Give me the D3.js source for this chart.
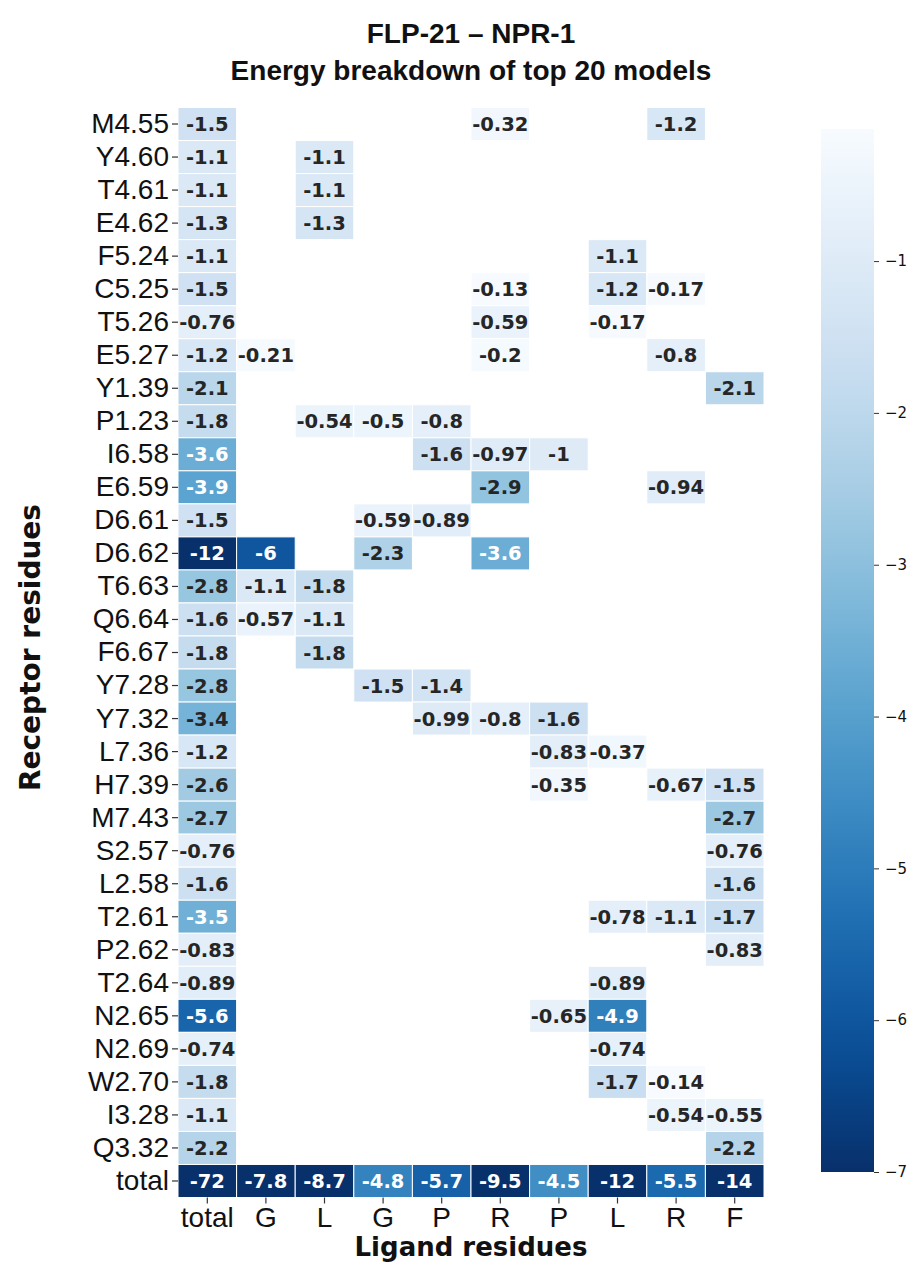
<!DOCTYPE html>
<html>
<head>
<meta charset="utf-8">
<script src="https://cdn.jsdelivr.net/npm/d3@7"></script>
<style>
  body { margin: 0; background: #fff; }
  svg { display: block; }
</style>
</head>
<body>
<div id="chart"></div>
<script>
// Receptor residues (rows) and ligand residues (columns)
const rowLabels = ["M4.55", "Y4.60", "T4.61", "E4.62", "F5.24", "C5.25", "T5.26", "E5.27",
  "Y1.39", "P1.23", "I6.58", "E6.59", "D6.61", "D6.62", "T6.63", "Q6.64", "F6.67",
  "Y7.28", "Y7.32", "L7.36", "H7.39", "M7.43", "S2.57", "L2.58", "T2.61", "P2.62",
  "T2.64", "N2.65", "N2.69", "W2.70", "I3.28", "Q3.32", "total"];
const colLabels = ["total", "G", "L", "G", "P", "R", "P", "L", "R", "F"];

// one array per ligand column, top-to-bottom, null = no contact
const colTotal = [-1.5, -1.1, -1.1, -1.3, -1.1, -1.5, -0.76, -1.2, -2.1, -1.8, -3.6, -3.9, -1.5, -12, -2.8, -1.6, -1.8,
  -2.8, -3.4, -1.2, -2.6, -2.7, -0.76, -1.6, -3.5, -0.83, -0.89, -5.6, -0.74, -1.8, -1.1, -2.2, -72];
const colG1 = [null, null, null, null, null, null, null, -0.21, null, null, null, null, null, -6, -1.1, -0.57, null,
  null, null, null, null, null, null, null, null, null, null, null, null, null, null, null, -7.8];
const colL2 = [null, -1.1, -1.1, -1.3, null, null, null, null, null, -0.54, null, null, null, null, -1.8, -1.1, -1.8,
  null, null, null, null, null, null, null, null, null, null, null, null, null, null, null, -8.7];
const colG3 = [null, null, null, null, null, null, null, null, null, -0.5, null, null, -0.59, -2.3, null, null, null,
  -1.5, null, null, null, null, null, null, null, null, null, null, null, null, null, null, -4.8];
const colP4 = [null, null, null, null, null, null, null, null, null, -0.8, -1.6, null, -0.89, null, null, null, null,
  -1.4, -0.99, null, null, null, null, null, null, null, null, null, null, null, null, null, -5.7];
const colR5 = [-0.32, null, null, null, null, -0.13, -0.59, -0.2, null, null, -0.97, -2.9, null, -3.6, null, null, null,
  null, -0.8, null, null, null, null, null, null, null, null, null, null, null, null, null, -9.5];
const colP6 = [null, null, null, null, null, null, null, null, null, null, -1, null, null, null, null, null, null,
  null, -1.6, -0.83, -0.35, null, null, null, null, null, null, -0.65, null, null, null, null, -4.5];
const colL7 = [null, null, null, null, -1.1, -1.2, -0.17, null, null, null, null, null, null, null, null, null, null,
  null, null, -0.37, null, null, null, null, -0.78, null, -0.89, -4.9, -0.74, -1.7, null, null, -12];
const colR8 = [-1.2, null, null, null, null, -0.17, null, -0.8, null, null, null, -0.94, null, null, null, null, null,
  null, null, null, -0.67, null, null, null, -1.1, null, null, null, null, -0.14, -0.54, null, -5.5];
const colF9 = [null, null, null, null, null, null, null, null, -2.1, null, null, null, null, null, null, null, null,
  null, null, null, -1.5, -2.7, -0.76, -1.6, -1.7, -0.83, null, null, null, null, -0.55, -2.2, -14];

const columns = [colTotal, colG1, colL2, colG3, colP4, colR5, colP6, colL7, colR8, colF9];
const cbTicks = [-1, -2, -3, -4, -5, -6, -7];
const vmin = -7, vmax = -0.13;

const W = 913, H = 1263;
const margin = { top: 107.5, left: 178, right: 149, bottom: 65.5 };
const width = W - margin.left - margin.right;
const height = H - margin.top - margin.bottom;

const svg = d3.select("#chart").append("svg")
  .attr("width", W)
  .attr("height", H);

const g = svg.append("g")
  .attr("transform", `translate(${margin.left},${margin.top})`);

// Scales
const x = d3.scaleBand().domain(d3.range(colLabels.length)).range([0, width]);
const y = d3.scaleBand().domain(d3.range(rowLabels.length)).range([0, height]);
const color = d3.scaleSequential(t => d3.interpolateBlues(t)).domain([vmax, vmin]).clamp(true);

// annotation format like seaborn ".2g" with plain hyphen
const fmt = d3.formatLocale({ decimal: ".", thousands: ",", grouping: [3], currency: ["", ""], minus: "-" }).format(".2~g");

function luminance(c) {
  const rgb = d3.rgb(c);
  const lin = v => { v /= 255; return v <= 0.03928 ? v / 12.92 : Math.pow((v + 0.055) / 1.055, 2.4); };
  return 0.2126 * lin(rgb.r) + 0.7152 * lin(rgb.g) + 0.0722 * lin(rgb.b);
}
// d3's Blues is a bit lighter than matplotlib's, so shift the light/dark text cut
const textCut = luminance(color(-3.45));

const cells = [];
columns.forEach((col, ci) => col.forEach((v, ri) => {
  if (v !== null) cells.push({ ci, ri, v });
}));

// Cells
g.selectAll("rect.cell")
  .data(cells)
  .join("rect")
  .attr("class", "cell")
  .attr("x", d => x(d.ci))
  .attr("y", d => y(d.ri))
  .attr("width", x.bandwidth())
  .attr("height", y.bandwidth())
  .attr("fill", d => color(d.v))
  .attr("stroke", "#fff")
  .attr("stroke-width", 1);

// Annotations
g.selectAll("text.annot")
  .data(cells)
  .join("text")
  .attr("class", "annot")
  .attr("x", d => x(d.ci) + x.bandwidth() / 2)
  .attr("y", d => y(d.ri) + y.bandwidth() / 2)
  .attr("dy", "0.36em")
  .attr("text-anchor", "middle")
  .attr("font-family", "DejaVu Sans")
  .attr("font-weight", "bold")
  .attr("font-size", 19.5)
  .attr("fill", d => luminance(color(d.v)) >= textCut ? "#262626" : "#fff")
  .text(d => fmt(d.v));

// Axes
const yAxis = g.append("g")
  .call(d3.axisLeft(y).tickFormat(i => rowLabels[i]).tickSize(6).tickPadding(3));
const xAxis = g.append("g")
  .attr("transform", `translate(0,${height})`)
  .call(d3.axisBottom(x).tickFormat(i => colLabels[i]).tickSize(6).tickPadding(3));

[yAxis, xAxis].forEach(ax => {
  ax.select(".domain").remove();
  ax.selectAll(".tick line").attr("stroke", "#333").attr("stroke-width", 1.2);
  ax.selectAll(".tick text")
    .attr("font-family", "Liberation Sans")
    .attr("font-size", 28)
    .attr("fill", "#111");
});
xAxis.selectAll(".tick text").attr("dy", "0.72em");

// Axis titles
svg.append("text")
  .attr("x", margin.left + width / 2)
  .attr("y", 1256)
  .attr("text-anchor", "middle")
  .attr("font-family", "DejaVu Sans")
  .attr("font-weight", "bold")
  .attr("font-size", 26)
  .attr("fill", "#111")
  .text("Ligand residues");

svg.append("text")
  .attr("transform", `translate(40,${margin.top + height / 2 - 5}) rotate(-90)`)
  .attr("text-anchor", "middle")
  .attr("font-family", "DejaVu Sans")
  .attr("font-weight", "bold")
  .attr("font-size", 28)
  .attr("fill", "#111")
  .text("Receptor residues");

// Title
const title = svg.append("text")
  .attr("text-anchor", "middle")
  .attr("font-family", "Liberation Sans")
  .attr("font-weight", "bold")
  .attr("font-size", 28)
  .attr("fill", "#111");
title.append("tspan").attr("x", margin.left + width / 2).attr("y", 43)
  .text("FLP-21 – NPR-1");
title.append("tspan").attr("x", margin.left + width / 2).attr("y", 80)
  .text("Energy breakdown of top 20 models");

// Colorbar
const cbX = 821, cbW = 53, cbTop = 129, cbBottom = 1172;
const cbScale = d3.scaleLinear().domain([vmin, vmax]).range([cbBottom, cbTop]);

const grad = svg.append("defs").append("linearGradient")
  .attr("id", "cb-grad")
  .attr("x1", "0%").attr("y1", "100%")
  .attr("x2", "0%").attr("y2", "0%");
d3.range(0, 1.0001, 0.05).forEach(t => {
  grad.append("stop")
    .attr("offset", `${t * 100}%`)
    .attr("stop-color", color(vmin + t * (vmax - vmin)));
});

svg.append("rect")
  .attr("x", cbX)
  .attr("y", cbTop)
  .attr("width", cbW)
  .attr("height", cbBottom - cbTop)
  .attr("fill", "url(#cb-grad)");

const cbAxis = svg.append("g")
  .attr("transform", `translate(${cbX + cbW},0)`)
  .call(d3.axisRight(cbScale).tickValues(cbTicks).tickFormat(d3.format("d")).tickSize(5).tickPadding(6));
cbAxis.select(".domain").remove();
cbAxis.selectAll(".tick line").attr("stroke", "#333");
cbAxis.selectAll(".tick text")
  .attr("font-family", "DejaVu Sans")
  .attr("font-size", 15)
  .attr("fill", "#111");
</script>
</body>
</html>
